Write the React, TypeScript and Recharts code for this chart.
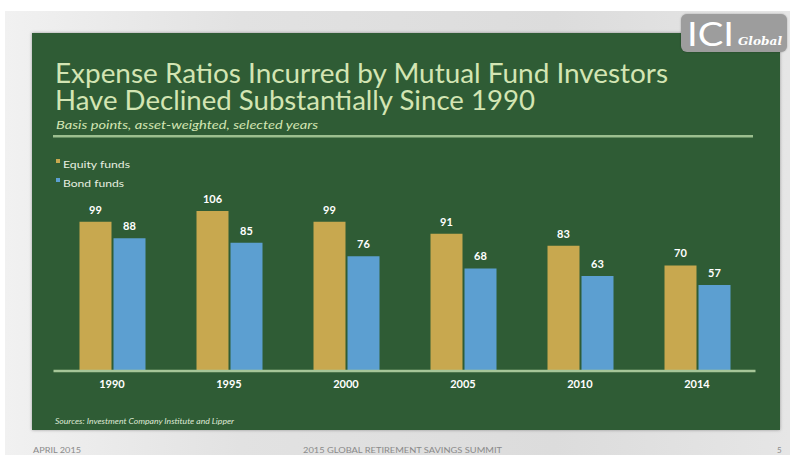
import React from 'react';
import { BarChart, Bar, XAxis, YAxis, LabelList } from 'recharts';

const years = ['1990', '1995', '2000', '2005', '2010', '2014'];
const equityFunds = [99, 106, 99, 91, 83, 70];
const bondFunds = [88, 85, 76, 68, 63, 57];

const data = years.map((year, i) => ({ year, equity: equityFunds[i], bond: bondFunds[i] }));

const GREEN = '#2f5c35';
const EQUITY = '#c8a84f';
const BOND = '#5c9fd1';
const TITLE = '#d3e5b3';
const AXIS = '#a6c698';
const FONT = 'Lato, "Open Sans", sans-serif';

export default function App() {
  return (
    <div style={{ position: 'absolute', left: 0, top: 0, width: 795, height: 455, background: '#ffffff', overflow: 'hidden', fontFamily: FONT }}>
      {/* slide frame */}
      <div style={{ position: 'absolute', left: 5, top: 11, width: 785, height: 444, background: 'linear-gradient(90deg, #f1f1f1 0%, #e2e2e2 30%, #dcdcdc 70%, #e6e6e6 100%)' }} />
      {/* green panel */}
      <div style={{ position: 'absolute', left: 32, top: 33, width: 748, height: 397, background: GREEN, boxShadow: '0 0 3px rgba(0,0,0,0.35)' }} />
      {/* logo */}
      <div style={{ position: 'absolute', left: 681, top: 14, width: 106, height: 38, background: '#9d9d9d', borderRadius: 6, boxShadow: '0 0 2px rgba(0,0,0,0.3)' }} />

      <div style={{ position: 'absolute', left: 0, top: 0 }}>
        <BarChart width={795} height={455} data={data} margin={{ top: 190, right: 39.5, bottom: 54, left: 53.5 }} barSize={32} barGap={2}>
          <YAxis hide domain={[0, 120]} />
          <XAxis
            dataKey="year"
            height={30}
            axisLine={{ stroke: AXIS, strokeWidth: 2.5 }}
            tickLine={false}
            tickMargin={3}
            tick={{ fill: '#ffffff', fontSize: 11, fontWeight: 700, fontFamily: FONT }}
          />
          <Bar dataKey="equity" fill={EQUITY} isAnimationActive={false}>
            <LabelList dataKey="equity" position="top" offset={8} fill="#ffffff" fontSize={11} fontWeight={700} fontFamily={FONT} />
          </Bar>
          <Bar dataKey="bond" fill={BOND} isAnimationActive={false}>
            <LabelList dataKey="bond" position="top" offset={8} fill="#ffffff" fontSize={11} fontWeight={700} fontFamily={FONT} />
          </Bar>
        </BarChart>
      </div>

      <svg width={795} height={455} style={{ position: 'absolute', left: 0, top: 0, pointerEvents: 'none' }}>
        <text x={55} y={83} fill={TITLE} fontFamily={FONT} fontSize={26} textLength={613} lengthAdjust="spacingAndGlyphs">Expense Ratios Incurred by Mutual Fund Investors</text>
        <text x={55} y={110} fill={TITLE} fontFamily={FONT} fontSize={26} textLength={480} lengthAdjust="spacingAndGlyphs">Have Declined Substantially Since 1990</text>
        <text x={56} y={129} fill={TITLE} fontFamily={FONT} fontSize={11.5} fontStyle="italic" textLength={262} lengthAdjust="spacingAndGlyphs">Basis points, asset-weighted, selected years</text>
        <rect x={53} y={135} width={700} height={2.5} fill="#9cbf8f" />

        <rect x={56} y={159} width={4} height={4} fill={EQUITY} />
        <text x={63} y={168} fill="#e8efe0" fontFamily={FONT} fontSize={10} textLength={67} lengthAdjust="spacingAndGlyphs">Equity funds</text>
        <rect x={56} y={178} width={4} height={4} fill={BOND} />
        <text x={63} y={187} fill="#e8efe0" fontFamily={FONT} fontSize={10} textLength={61} lengthAdjust="spacingAndGlyphs">Bond funds</text>

        <text x={55} y={424} fill="#dfe9d6" fontFamily={FONT} fontSize={7.5} fontStyle="italic" textLength={179} lengthAdjust="spacingAndGlyphs">Sources: Investment Company Institute and Lipper</text>

        <text x={33} y={453} fill="#8a8a8a" fontFamily={FONT} fontSize={8} textLength={48} lengthAdjust="spacingAndGlyphs">APRIL 2015</text>
        <text x={303} y={453} fill="#8a8a8a" fontFamily={FONT} fontSize={8} textLength={199} lengthAdjust="spacingAndGlyphs">2015 GLOBAL RETIREMENT SAVINGS SUMMIT</text>
        <text x={777} y={453} fill="#8a8a8a" fontFamily={FONT} fontSize={8}>5</text>

        <text x={687} y={46} fill="#ffffff" fontFamily={FONT} fontSize={33} fontWeight={400} textLength={47} lengthAdjust="spacingAndGlyphs">ICI</text>
        <text x={738} y={45} fill="#ffffff" fontFamily='"DejaVu Serif", serif' fontSize={11} fontStyle="italic" fontWeight={700} textLength={44} lengthAdjust="spacingAndGlyphs">Global</text>
      </svg>
    </div>
  );
}
